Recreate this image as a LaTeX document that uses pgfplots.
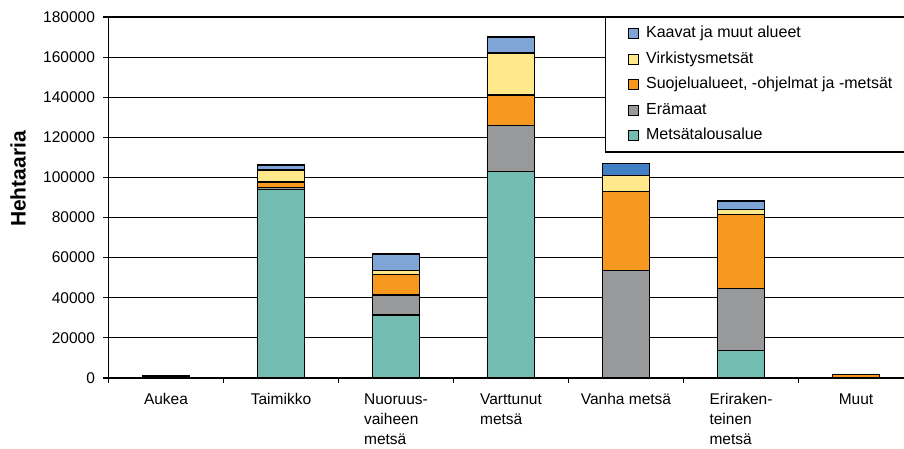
\documentclass[border=0pt]{standalone}
\usepackage{fontspec}
\setmainfont{Liberation Sans}
\usepackage{pgfplots}
\pgfplotsset{compat=1.18}
\definecolor{cteal}{RGB}{115,188,178}
\definecolor{cgray}{RGB}{152,153,155}
\definecolor{corange}{RGB}{247,153,30}
\definecolor{cyellow}{RGB}{255,233,139}
\definecolor{cblue}{RGB}{127,164,214}
\definecolor{cdblue}{RGB}{66,128,198}
\begin{document}
\begin{tikzpicture}
\begin{axis}[
  at={(0pt,0pt)}, anchor=south west,
  scale only axis, width=805pt, height=361pt,
  ybar stacked, bar width=47pt,
  xmin=-0.5, xmax=6.5, ymin=0, ymax=180000,
  axis lines*=left,
  axis line style={line width=1.5pt, black},
  tick align=outside,
  major tick length=5pt, minor tick length=5pt,
  xtick={0,1,2,3,4,5,6},
  xticklabels={Aukea,Taimikko,{Nuoruus-\\vaiheen\\metsä},{Varttunut\\metsä},Vanha metsä,{Eriraken-\\teinen\\metsä},Muut},
  minor xtick={-0.5,0.5,1.5,2.5,3.5,4.5,5.5,6.5},
  major x tick style={draw=none},
  minor x tick style={black, line width=1.2pt},
  xticklabel style={align=left, font=\fontsize{15.5}{20}\selectfont, yshift=-7pt},
  ytick={0,20000,40000,60000,80000,100000,120000,140000,160000,180000},
  y tick style={black, line width=1.2pt},
  ymajorgrids, major grid style={black, line width=1.2pt},
  scaled y ticks=false,
  yticklabel style={/pgf/number format/fixed, /pgf/number format/1000 sep={}, /pgf/number format/assume math mode=true, font=\fontsize{15.5}{18}\selectfont, xshift=-5pt},
  ylabel={Hehtaaria},
  every axis y label/.style={at={(axis description cs:-0.1124,0.551)}, rotate=90, anchor=center, font=\fontsize{21}{24}\bfseries\selectfont},
  legend image code/.code={\path (-19pt,0pt); \path (15pt,0pt); \draw[#1, draw=black, line width=1.2pt] (0pt,-5pt) rectangle (10pt,5pt);},
  reverse legend,
  legend cell align=left,
  legend style={at={(0.6168,1)}, anchor=north west, draw=black, line width=1.2pt,
    font=\fontsize{16}{18}\selectfont, inner ysep=3.5pt, row sep=0pt,
    nodes={inner ysep=5.5pt, text height=11pt, text depth=3.5pt}},
]
\addplot[fill=cteal, draw=black, line width=1.5pt] coordinates {(0,1000) (1,94000) (2,31500) (3,103000) (4,0) (5,13600) (6,0)};
\addplot[fill=cgray, draw=black, line width=1.5pt] coordinates {(0,0) (1,1000) (2,10000) (3,23000) (4,53500) (5,31100) (6,0)};
\addplot[fill=corange, draw=black, line width=1.5pt] coordinates {(0,0) (1,2700) (2,10000) (3,15000) (4,39600) (5,36900) (6,1800)};
\addplot[fill=cyellow, draw=black, line width=1.5pt] coordinates {(0,0) (1,6000) (2,2000) (3,21000) (4,7800) (5,2500) (6,0)};
\addplot[fill=cblue, draw=black, line width=1.5pt] coordinates {(0,0) (1,2500) (2,8300) (3,8000) (4,0) (5,4200) (6,0)};
\addplot[fill=cdblue, draw=black, line width=1.5pt, forget plot] coordinates {(0,0) (1,0) (2,0) (3,0) (4,6100) (5,0) (6,0)};
\legend{Metsätalousalue,Erämaat,{Suojelualueet, -ohjelmat ja -metsät\rule{20pt}{0pt}},Virkistysmetsät,Kaavat ja muut alueet}
\end{axis}
\pgfresetboundingbox
\useasboundingbox (-108.5pt,-71pt) rectangle (795.5pt,378pt);
\end{tikzpicture}
\end{document}
